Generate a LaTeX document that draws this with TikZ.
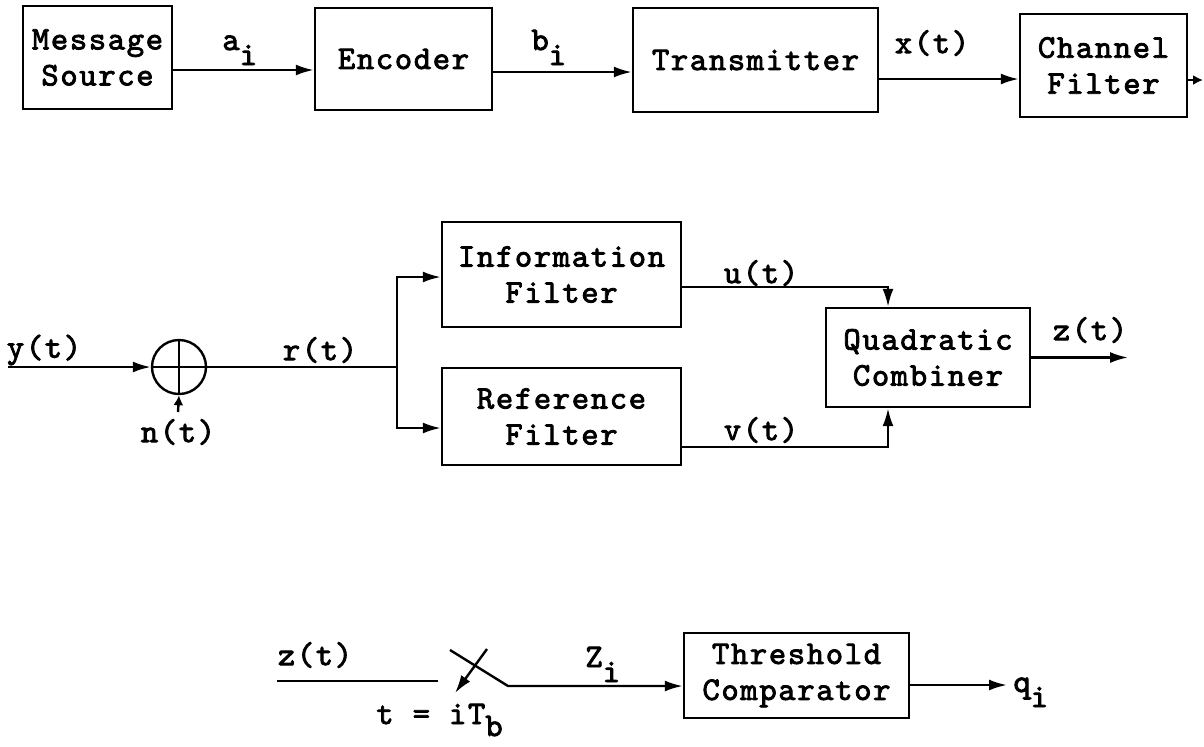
\documentclass[tikz,border=0pt]{standalone}
\usepackage{fontspec}
\newfontfamily\tw{lmmono10-regular.otf}[FakeBold=2.5, LetterSpace=5]
\usetikzlibrary{arrows.meta}
\newcommand{\sbi}[1]{\raisebox{-7.5pt}{#1}}
\begin{document}
\begin{tikzpicture}[x=0.5pt,y=-0.5pt,
  every node/.style={font=\tw\fontsize{16.5}{18}\selectfont, inner sep=0pt},
  blk/.style={draw, line width=1.2pt, align=center},
  lnk/.style={line width=1.2pt},
  arr/.style={line width=1.2pt, -{Latex[length=9pt,width=5.5pt]}},
  lbl/.style={anchor=center},
  sub/.style={anchor=base west}]
\useasboundingbox (0,0) rectangle (1204,746);
% top row
\node[blk, minimum width=74.5pt, minimum height=51.5pt] (ms) at (97.5,57.5) {Message\\Source};
\node[blk, minimum width=88.5pt, minimum height=51pt] (enc) at (403.5,59) {Encoder};
\node[blk, minimum width=122.5pt, minimum height=52pt] (tx) at (755.5,60) {Transmitter};
\node[blk, minimum width=83.5pt, minimum height=51.5pt] (ch) at (1103.5,65.5) {Channel\\Filter};
\coordinate (chout) at (1203,80);
\draw[arr] (ms.east |- 0,70) -- (enc.west |- 0,70);
\draw[arr] (enc.east |- 0,72) -- (tx.west |- 0,72);
\draw[arr] (tx.east |- 0,79) -- (ch.west |- 0,79);
\draw[lnk, -{Latex[length=5pt,width=5pt]}] (ch.east |- 0,80) -- (chout);
\node[sub] (la) at (222,50) {a\sbi{i}};
\node[sub] (lb) at (531,50) {b\sbi{i}};
\node[lbl] (lx) at (932,43) {x(t)};
% middle row
\node[draw, line width=1.2pt, circle, minimum size=27pt] (sum) at (179,367) {};
\draw[lnk] (sum.north) -- (sum.south);
\draw[lnk] (sum.west) -- (sum.east);
\coordinate (yin) at (8,367);
\coordinate (nin) at (178,412);
\coordinate (split) at (397,367);
\draw[arr] (yin) -- (sum.west);
\draw[lnk, -{Latex[length=5pt,width=5pt]}] (nin) -- (sum.south);
\draw[lnk] (sum.east) -- (split);
\node[blk, minimum width=119.5pt, minimum height=52.5pt] (info) at (561.5,274.5) {Information\\Filter};
\node[blk, minimum width=119.5pt, minimum height=48.5pt] (ref) at (561.5,416.5) {Reference\\Filter};
\node[blk, minimum width=102pt, minimum height=49.5pt] (comb) at (928,357.5) {Quadratic\\Combiner};
\draw[arr] (split) |- (info.west |- 0,277);
\draw[arr] (split) |- (ref.west |- 0,428);
\draw[arr] (info.east |- 0,287) -| (comb.north -| 888,0);
\draw[arr] (ref.east |- 0,447) -| (comb.south -| 888,0);
\coordinate (zout) at (1128,357.5);
\draw[arr] (comb.east) -- (zout);
\node[lbl] (ly) at (44,350) {y(t)};
\node[lbl] (ln) at (178,432) {n(t)};
\node[lbl] (lr) at (320,350) {r(t)};
\node[lbl] (lu) at (761,273) {u(t)};
\node[lbl] (lv) at (761,430) {v(t)};
\node[lbl] (lz) at (1090,330) {z(t)};
% bottom row
\node[blk, minimum width=112.5pt, minimum height=42.5pt] (thr) at (796.5,675.5) {Threshold\\Comparator};
\coordinate (zin) at (277,681);
\coordinate (sw) at (438,681);
\coordinate (bladeA) at (450,650);
\coordinate (bladeB) at (508,686);
\coordinate (actA) at (487,649);
\coordinate (actB) at (455,693);
\coordinate (qout) at (1007,685);
\draw[lnk] (zin) -- (sw);
\draw[arr] (bladeA) -- (bladeB) -- (thr.west |- 0,686);
\draw[arr] (actA) -- (actB);
\draw[arr] (thr.east |- 0,685) -- (qout);
\node[lbl] (lz2) at (315,655) {z(t)};
\node[sub] (lZ) at (585,667) {Z\sbi{i}};
\node[sub] (lq) at (1013,692) {q\sbi{i}};
\node[sub] (lt) at (376,724) {t = iT\raisebox{-6pt}{b}};
\end{tikzpicture}
\end{document}
